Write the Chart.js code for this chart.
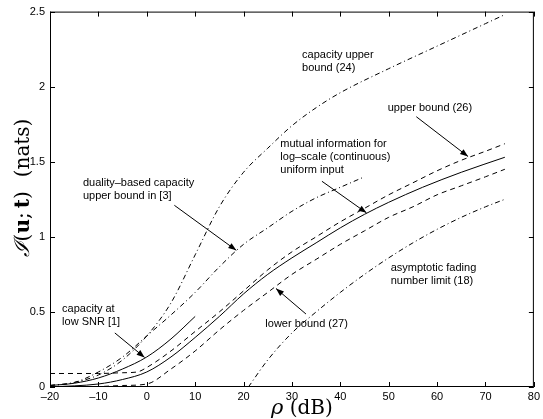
<!DOCTYPE html>
<html lang="en">
<head>
<meta charset="UTF-8">
<title>Mutual information vs SNR</title>
<script src="https://cdn.jsdelivr.net/npm/chart.js"></script>
<style>
  body { margin: 0; background: #fff; }
  #wrap { width: 543px; height: 419px; }
</style>
</head>
<body>
<div id="wrap"><canvas id="grafico" width="543" height="419"></canvas></div>
<script>
// --- data (SNR in dB, information in nats) ---
const xTicks = [-20, -10, 0, 10, 20, 30, 40, 50, 60, 70, 80];
const yTicks = [0, 0.5, 1, 1.5, 2, 2.5];

const snrCapUpper = [-20, -15, -10, -5, 0, 5, 10, 15, 20, 25, 30, 35, 40, 50, 60, 70, 74];
const capUpper = [0.01, 0.03, 0.08, 0.18, 0.34, 0.56, 0.88, 1.2, 1.43, 1.59, 1.74, 1.86, 1.96, 2.12, 2.27, 2.42, 2.48];

const snrDuality = [-20, -15, -10, -5, 0, 5, 10, 15, 20, 25, 30, 35, 40, 45];
const duality = [0.01, 0.03, 0.1, 0.2, 0.34, 0.48, 0.63, 0.8, 0.95, 1.06, 1.17, 1.26, 1.33, 1.4];

const snrUpper = [-20, -10, -5, -2, 0, 5, 10, 15, 20, 25, 30, 35, 40, 45, 50, 55, 60, 65, 70, 74];
const upperBound = [0.09, 0.09, 0.095, 0.1, 0.13, 0.24, 0.37, 0.5, 0.64, 0.78, 0.9, 1.0, 1.1, 1.19, 1.28, 1.36, 1.44, 1.51, 1.57, 1.62];

const snrMutual = [-20, -10, -5, 0, 5, 10, 15, 20, 25, 30, 35, 40, 45, 50, 57, 65, 74];
const mutualInfo = [0.0, 0.02, 0.05, 0.1, 0.2, 0.33, 0.47, 0.62, 0.75, 0.86, 0.96, 1.06, 1.15, 1.23, 1.33, 1.43, 1.53];

const snrLower = [-20, -10, -5, 0, 5, 10, 15, 20, 25, 30, 35, 40, 45, 50, 55, 60, 65, 70, 74];
const lowerBound = [0.0, 0.003, 0.01, 0.02, 0.12, 0.24, 0.38, 0.51, 0.63, 0.75, 0.85, 0.95, 1.04, 1.13, 1.2, 1.28, 1.34, 1.4, 1.45];

const snrFading = [21, 25, 30, 35, 40, 45, 50, 55, 60, 65, 70, 74];
const fadingLimit = [0.0, 0.18, 0.36, 0.5, 0.63, 0.75, 0.86, 0.96, 1.05, 1.13, 1.2, 1.25];

const snrLowSnr = [-20, -15, -10, -5, 0, 5, 10];
const lowSnrCap = [0.01, 0.025, 0.06, 0.12, 0.2, 0.32, 0.47];

// labels with arrows, in data units
const notes = [
  { lines: ['capacity upper', 'bound (24)'], at: [32.1, 2.21] },
  { lines: ['upper bound (26)'], at: [49.8, 1.86], from: [55.7, 1.80], to: [66.4, 1.535] },
  { lines: ['mutual information for', 'log\u2013scale (continuous)', 'uniform input'], at: [27.6, 1.62], from: [36.2, 1.37], to: [45.4, 1.16] },
  { lines: ['duality\u2013based capacity', 'upper bound in [3]'], at: [-13.2, 1.36], from: [5.7, 1.21], to: [18.5, 0.91] },
  { lines: ['capacity at', 'low SNR [1]'], at: [-17.5, 0.52], from: [-6.6, 0.36], to: [-0.45, 0.197] },
  { lines: ['lower bound (27)'], at: [24.5, 0.42], from: [32.9, 0.486], to: [26.7, 0.656] },
  { lines: ['asymptotic fading', 'number limit (18)'], at: [50.4, 0.794] }
];

function pts(xs, ys) {
  return xs.map((x, i) => ({ x: x, y: ys[i] }));
}

const DASH = [5, 4];
const DASHDOT = [5, 3, 1, 3];

function serie(xs, ys, dash) {
  return {
    data: pts(xs, ys),
    showLine: true,
    borderColor: '#000',
    borderWidth: 1,
    borderDash: dash,
    pointRadius: 0,
    cubicInterpolationMode: 'monotone',
    fill: false
  };
}

// box, inward ticks, notes and axis titles
const marcoPlugin = {
  id: 'marco',
  afterDatasetsDraw(chart) {
    const ctx = chart.ctx;
    const a = chart.chartArea;
    const sx = chart.scales.x, sy = chart.scales.y;
    ctx.save();
    ctx.strokeStyle = '#000';
    ctx.lineWidth = 1;
    ctx.setLineDash([]);
    ctx.strokeRect(a.left + 0.5, a.top + 0.5, a.right - a.left - 1, a.bottom - a.top - 1);
    ctx.beginPath();
    xTicks.forEach(v => {
      const p = Math.round(sx.getPixelForValue(v)) + 0.5;
      ctx.moveTo(p, a.bottom); ctx.lineTo(p, a.bottom - 5);
      ctx.moveTo(p, a.top); ctx.lineTo(p, a.top + 5);
    });
    yTicks.forEach(v => {
      const p = Math.round(sy.getPixelForValue(v)) + 0.5;
      ctx.moveTo(a.left, p); ctx.lineTo(a.left + 5, p);
      ctx.moveTo(a.right, p); ctx.lineTo(a.right - 5, p);
    });
    ctx.stroke();

    // notes
    ctx.font = '11px "Liberation Sans", Arial, sans-serif';
    ctx.fillStyle = '#000';
    ctx.textAlign = 'left';
    ctx.textBaseline = 'middle';
    notes.forEach(n => {
      const x0 = sx.getPixelForValue(n.at[0]);
      const y0 = sy.getPixelForValue(n.at[1]);
      n.lines.forEach((t, i) => ctx.fillText(t, x0, y0 + i * 13));
      if (n.from) {
        const x1 = sx.getPixelForValue(n.from[0]), y1 = sy.getPixelForValue(n.from[1]);
        const x2 = sx.getPixelForValue(n.to[0]), y2 = sy.getPixelForValue(n.to[1]);
        const ang = Math.atan2(y2 - y1, x2 - x1);
        ctx.beginPath();
        ctx.moveTo(x1, y1); ctx.lineTo(x2, y2);
        ctx.stroke();
        ctx.beginPath();
        ctx.moveTo(x2, y2);
        ctx.lineTo(x2 - 8 * Math.cos(ang) + 3 * Math.sin(ang), y2 - 8 * Math.sin(ang) - 3 * Math.cos(ang));
        ctx.lineTo(x2 - 8 * Math.cos(ang) - 3 * Math.sin(ang), y2 - 8 * Math.sin(ang) + 3 * Math.cos(ang));
        ctx.closePath();
        ctx.fill();
      }
    });

    // x title: rho (dB)
    ctx.textBaseline = 'alphabetic';
    ctx.textAlign = 'left';
    ctx.font = 'italic 21px "DejaVu Serif", serif';
    const rhoW = ctx.measureText('\u03c1').width;
    ctx.font = '20px "DejaVu Serif", serif';
    const dbW = ctx.measureText(' (dB)').width;
    const xs = (a.left + a.right) / 2 + 10 - (rhoW + dbW) / 2;
    ctx.font = 'italic 21px "DejaVu Serif", serif';
    ctx.fillText('\u03c1', xs, 414);
    ctx.font = '20px "DejaVu Serif", serif';
    ctx.fillText(' (dB)', xs + rhoW, 414);

    // y title: I(u; t) (nats)
    const parts = [
      ['italic 21px "DejaVu Serif", serif', '\u2110'],
      ['20px "DejaVu Serif", serif', '('],
      ['bold 20px "DejaVu Serif", serif', 'u'],
      ['20px "DejaVu Serif", serif', ';\u2009'],
      ['bold 20px "DejaVu Serif", serif', 't'],
      ['20px "DejaVu Serif", serif', ')\u2002\u2009(nats)']
    ];
    let total = 0;
    parts.forEach(p => { ctx.font = p[0]; total += ctx.measureText(p[1]).width; });
    ctx.translate(29, 188);
    ctx.rotate(-Math.PI / 2);
    let cx = -total / 2;
    parts.forEach(p => {
      ctx.font = p[0];
      ctx.fillText(p[1], cx, 0);
      cx += ctx.measureText(p[1]).width;
    });
    ctx.restore();
  }
};

const etiqueta = { family: '"Liberation Sans", Arial, sans-serif', size: 11 };

new Chart(document.getElementById('grafico').getContext('2d'), {
  type: 'scatter',
  data: {
    datasets: [
      serie(snrCapUpper, capUpper, DASHDOT),
      serie(snrDuality, duality, DASHDOT),
      serie(snrUpper, upperBound, DASH),
      serie(snrMutual, mutualInfo, []),
      serie(snrLower, lowerBound, DASH),
      serie(snrFading, fadingLimit, DASHDOT),
      serie(snrLowSnr, lowSnrCap, [])
    ]
  },
  options: {
    responsive: false,
    animation: false,
    layout: { padding: { left: 0, top: 6, right: 7, bottom: 0 } },
    plugins: { legend: { display: false }, tooltip: { enabled: false } },
    scales: {
      x: {
        type: 'linear', min: -20, max: 80,
        afterFit: s => { s.height = 32; },
        afterBuildTicks: s => { s.ticks = xTicks.map(v => ({ value: v })); },
        grid: { display: false, drawTicks: false },
        border: { display: false },
        ticks: { color: '#000', font: etiqueta, padding: 3, maxRotation: 0,
                 callback: v => String(v).replace('-', '\u2013') }
      },
      y: {
        type: 'linear', min: 0, max: 2.5,
        afterFit: s => { s.width = 50; },
        afterBuildTicks: s => { s.ticks = yTicks.map(v => ({ value: v })); },
        grid: { display: false, drawTicks: false },
        border: { display: false },
        ticks: { color: '#000', font: etiqueta, padding: 5, callback: v => String(v) }
      }
    }
  },
  plugins: [marcoPlugin]
});
</script>
</body>
</html>
